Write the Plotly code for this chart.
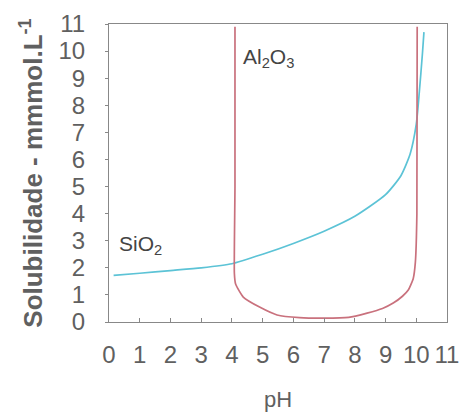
import plotly.graph_objects as go

# Solubility of silica vs pH
sio2_ph = [0.15, 1.0, 2.0, 3.0, 4.0, 5.0, 6.0, 7.0, 8.0, 9.0, 9.5, 9.8, 10.0, 10.1, 10.2, 10.25]
sio2_sol = [1.72, 1.8, 1.9, 2.0, 2.15, 2.5, 2.9, 3.35, 3.9, 4.7, 5.4, 6.2, 7.3, 8.5, 9.9, 10.7]

# Solubility of alumina vs pH
al_ph = [4.1, 4.1, 4.08, 4.12, 4.37, 4.9, 5.47, 6.2, 7.0, 7.8, 8.4, 8.9, 9.25, 9.55, 9.74, 9.9, 9.97, 10.02, 10.03]
al_sol = [10.9, 5.0, 1.8, 1.4, 0.92, 0.55, 0.26, 0.16, 0.14, 0.17, 0.33, 0.5, 0.7, 0.95, 1.18, 1.6, 2.2, 4.0, 10.9]

x_ticks = list(range(0, 12))
y_ticks = list(range(0, 12))

grey = "#606060"

fig = go.Figure()
fig.add_trace(go.Scatter(x=sio2_ph, y=sio2_sol, mode="lines", line=dict(color="#5cc3d6", width=1.7, shape="spline", smoothing=0.6), showlegend=False))
fig.add_trace(go.Scatter(x=al_ph, y=al_sol, mode="lines", line=dict(color="#c9717d", width=1.7, shape="spline", smoothing=0.5), showlegend=False))

fig.add_annotation(x=4.3, y=9.75, text="Al<sub>2</sub>O<sub>3</sub>", showarrow=False, xanchor="left", yanchor="middle",
                   font=dict(family="Liberation Sans", size=21, color="#444"))
fig.add_annotation(x=0.27, y=2.85, text="SiO<sub>2</sub>", showarrow=False, xanchor="left", yanchor="middle",
                   font=dict(family="Liberation Sans", size=21, color="#444"))

fig.update_layout(
    width=461, height=414,
    margin=dict(l=109, r=14, t=24, b=92),
    plot_bgcolor="white", paper_bgcolor="white",
    font=dict(family="Liberation Sans", color=grey),
)
fig.update_xaxes(
    range=[0, 11], tickmode="array", tickvals=x_ticks, ticktext=[str(v) for v in x_ticks],
    showgrid=False, zeroline=False, showline=True, linecolor="#888", linewidth=1, mirror=True,
    ticks="inside", ticklen=4, tickcolor="#888", automargin=False,
    tickfont=dict(size=24, color=grey), ticklabelstandoff=11,
    title=dict(text="pH", font=dict(size=22, color=grey), standoff=24),
)
fig.update_yaxes(
    range=[0, 11], tickmode="array", tickvals=y_ticks, ticktext=[str(v) for v in y_ticks],
    showgrid=False, zeroline=False, showline=True, linecolor="#888", linewidth=1, mirror=True,
    ticks="outside", ticklen=3, tickcolor="#888", automargin=False,
    tickfont=dict(size=24, color=grey), ticklabelstandoff=15,
    title=dict(text="<b>Solubilidade - mmmol.L<sup>-1</sup></b>", font=dict(size=26, color=grey), standoff=8),
)

fig.write_html("out.html")
